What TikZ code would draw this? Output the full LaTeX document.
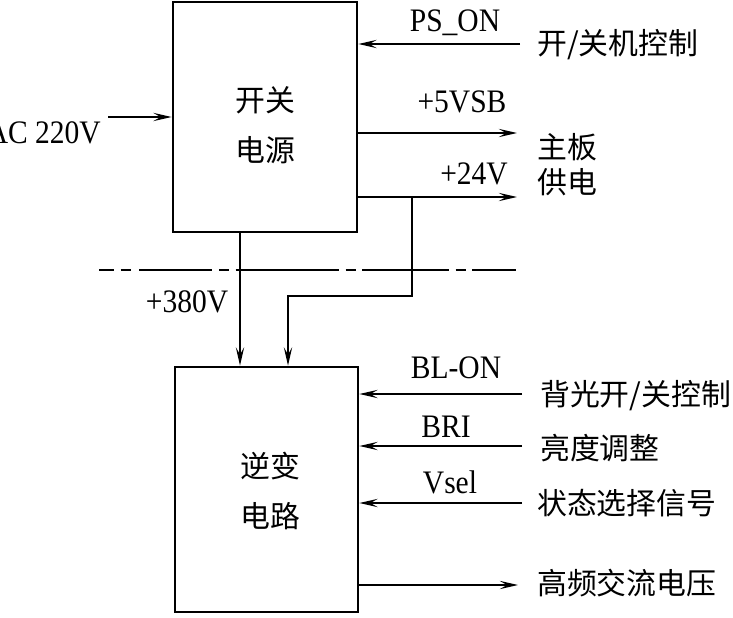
\documentclass[tikz,border=0pt]{standalone}
\usepackage{fontspec}
\setmainfont{Liberation Serif}[FakeStretch=0.9]
\newfontfamily\cjk{Noto Sans CJK SC}
\usetikzlibrary{positioning,calc,arrows.meta}

\begin{document}
\begin{tikzpicture}[x=0.03cm,y=-0.03cm,
    kuang/.style={rectangle,draw,line width=2.4pt,inner sep=0pt},
    wz/.style={font=\fontsize{28}{32}\selectfont,inner sep=0pt},
    hz/.style={font=\cjk\fontsize{25.5}{30}\selectfont,inner sep=0pt,align=left},
    hzk/.style={font=\cjk\fontsize{25.5}{42.7}\selectfont,inner sep=0pt,align=center},
    jt/.style={line width=1.2pt,-{Stealth[length=0.55cm,width=0.25cm,inset=0.22cm]}},
    dianxian/.style={line width=1.4pt,dash pattern=on 0.45cm off 0.2cm on 0.3cm off 0.25cm on 2.2cm off 0.2cm on 0.3cm off 0.2cm on 3.1cm off 0.2cm on 0.3cm off 0.2cm on 2.6cm off 0.2cm on 0.3cm off 0.2cm on 1.3cm off 1cm}]

\useasboundingbox (0,0) rectangle (733,617);

\node[kuang,minimum width=5.52cm,minimum height=6.9cm] (kg) at (265,117) {};
\node[hzk] (kgt) at (265,125) {开关\\电源};

\node[kuang,minimum width=5.49cm,minimum height=7.35cm] (nb) at (266.5,489.5) {};
\node[hzk] (nbt) at (270,491) {逆变\\电路};

\node[wz,anchor=base east] (ac) at (101,143) {AC 220V};
\draw[jt] ([xshift=6pt]ac.east |- kg.west) -- (kg.west);

\coordinate (ipson) at (520,44);
\node[wz,anchor=base] (lpson) at (455,31) {PS\_ON};
\node[hz,anchor=west] (tpson) at (537,45) {开/关机控制};
\draw[jt] (ipson) -- (ipson -| kg.east);

\coordinate (o5) at (517,133);
\coordinate (o24) at (517,197);
\node[wz,anchor=base] (l5) at (462,112) {+5VSB};
\node[wz,anchor=base] (l24) at (474,184) {+24V};
\node[hz,anchor=west] (tzb) at (537,165) {主板\\供电};
\draw[jt] (o5 -| kg.east) -- (o5);
\draw[jt] (o24 -| kg.east) -- (o24);

\coordinate (dl) at (99,270);
\coordinate (dr) at (518,270);
\draw[dianxian] (dl) -- (dr);

\coordinate (x380) at (240,0);
\coordinate (x24) at (412,0);
\coordinate (x24b) at (288,0);
\node[wz,anchor=base] (l380) at (187,312) {+380V};
\draw[jt] (x380 |- kg.south) -- (x380 |- nb.north);
\draw[jt] (x24 |- o24) -- ++(0,99) -| (x24b |- nb.north);

\coordinate (ibl) at (522,394);
\coordinate (ibri) at (522,446);
\coordinate (ivs) at (522,503);
\coordinate (ogp) at (518,585);
\node[wz,anchor=base] (lbl) at (456,378) {BL-ON};
\node[wz,anchor=base] (lbri) at (446,437) {BRI};
\node[wz,anchor=base] (lvs) at (450,493) {Vsel};
\node[hz,anchor=west] (tbl) at (540,396) {背光开/关控制};
\node[hz,anchor=west] (tbri) at (540,448) {亮度调整};
\node[hz,anchor=west] (tvs) at (537,503) {状态选择信号};
\node[hz,anchor=west] (tgp) at (537,583) {高频交流电压};
\draw[jt] (ibl) -- (ibl -| nb.east);
\draw[jt] (ibri) -- (ibri -| nb.east);
\draw[jt] (ivs) -- (ivs -| nb.east);
\draw[jt] (ogp -| nb.east) -- (ogp);

\end{tikzpicture}
\end{document}
